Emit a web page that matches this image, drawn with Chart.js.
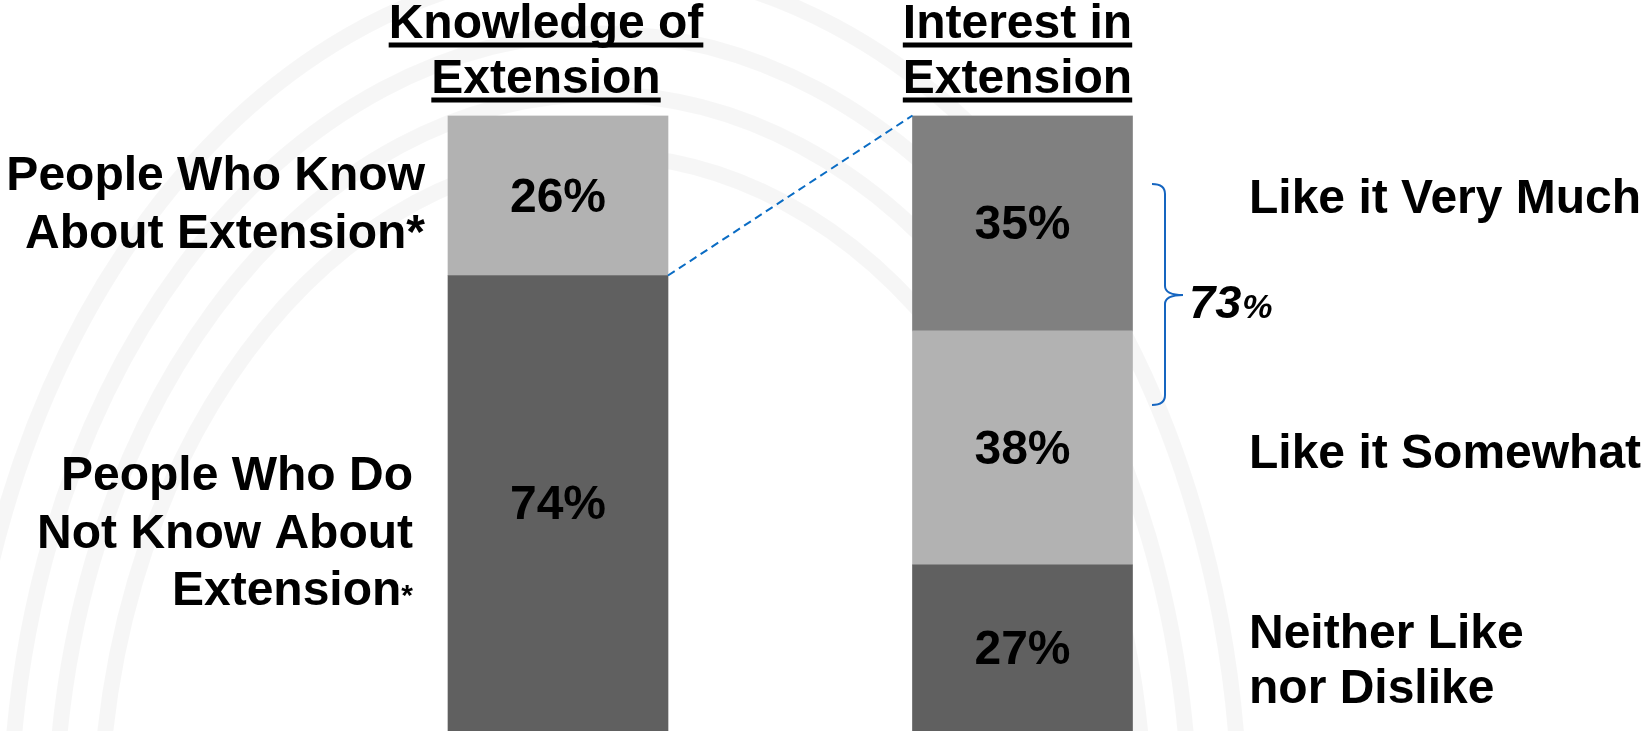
<!DOCTYPE html>
<html>
<head>
  <meta charset="utf-8">
  <title>Knowledge of and Interest in Extension</title>
  <script src="https://cdn.jsdelivr.net/npm/chart.js@4.4.1/dist/chart.umd.min.js"></script>
  <style>
    body { margin: 0; background: #ffffff; }
    #wrap { width: 1646px; height: 731px; }
  </style>
</head>
<body>
<div id="wrap"><canvas id="myChart" width="1646" height="731"></canvas></div>
<script>
// the two bars
const categories = [['Knowledge of', 'Extension'], ['Interest in', 'Extension']];

// left bar, bottom to top
const knowNotValues = [74, null];
const knowValues = [26, null];
// right bar, bottom to top
const neitherValues = [null, 27];
const somewhatValues = [null, 38];
const veryMuchValues = [null, 35];

// segment names, one entry per line
const knowNotLabel = ['People Who Do', 'Not Know About', 'Extension*'];
const knowLabel = ['People Who Know', 'About Extension*'];
const neitherLabel = ['Neither Like', 'nor Dislike'];
const somewhatLabel = ['Like it Somewhat'];
const veryMuchLabel = ['Like it Very Much'];

const FONT = '"Liberation Sans", Arial, Helvetica, sans-serif';
const SIZE = 48;
function font(size, italic) {
  return (italic ? 'italic ' : '') + 'bold ' + size + 'px ' + FONT;
}

// draws text lines; a trailing "*" can be drawn smaller
function drawLines(ctx, lines, x, baselines, align, smallStar) {
  lines.forEach((line, i) => {
    const y = baselines[i];
    if (smallStar && line.endsWith('*')) {
      const main = line.slice(0, -1);
      ctx.font = font(SIZE);
      const w1 = ctx.measureText(main).width;
      ctx.font = font(30);
      const w2 = ctx.measureText('*').width;
      const left = align === 'right' ? x - w1 - w2 : x;
      ctx.textAlign = 'left';
      ctx.font = font(SIZE);
      ctx.fillText(main, left, y);
      ctx.font = font(30);
      ctx.fillText('*', left + w1, y);
    } else {
      ctx.font = font(SIZE);
      ctx.textAlign = align;
      ctx.fillText(line, x, y);
    }
  });
}

const overlay = {
  id: 'overlay',
  beforeDatasetsDraw(chart) {
    // faint rings in the background
    const ctx = chart.ctx;
    ctx.save();
    ctx.strokeStyle = 'rgba(0,0,0,0.035)';
    ctx.lineWidth = 16;
    [500, 545, 590, 640].forEach(r => {
      ctx.beginPath();
      ctx.ellipse(600, 830, r, r * 1.35, 0, 0, Math.PI * 2);
      ctx.stroke();
    });
    ctx.restore();
  },
  afterDatasetsDraw(chart) {
    const ctx = chart.ctx;
    const xs = chart.scales.x;
    ctx.save();
    ctx.fillStyle = '#000000';

    // percent labels in the middle of each segment
    ctx.font = font(SIZE);
    ctx.textAlign = 'center';
    ctx.textBaseline = 'middle';
    chart.data.datasets.forEach((ds, d) => {
      chart.getDatasetMeta(d).data.forEach((el, i) => {
        const v = ds.data[i];
        if (v === null) return;
        ctx.fillText(v + '%', el.x, (el.y + el.base) / 2 + 3);
      });
    });
    ctx.textBaseline = 'alphabetic';

    // underlined titles above the bars
    const shift = [-12, -5];
    categories.forEach((lines, i) => {
      const cx = xs.getPixelForValue(i) + shift[i];
      [38, 93].forEach((base, k) => {
        ctx.font = font(SIZE);
        ctx.textAlign = 'center';
        ctx.fillText(lines[k], cx, base);
        const w = ctx.measureText(lines[k]).width;
        ctx.fillRect(cx - w / 2, base + 4.5, w, 5);
      });
    });

    // segment names
    drawLines(ctx, knowLabel, 425, [190, 248], 'right', false);
    drawLines(ctx, knowNotLabel, 413, [490, 548, 605], 'right', true);
    drawLines(ctx, veryMuchLabel, 1249, [213], 'left', false);
    drawLines(ctx, somewhatLabel, 1249, [468], 'left', false);
    drawLines(ctx, neitherLabel, 1249, [648, 703], 'left', false);

    // dashed link from the "know" segment to the right bar
    const a = chart.getDatasetMeta(1).data[0];
    const b = chart.getDatasetMeta(4).data[1];
    ctx.strokeStyle = '#0a6cc4';
    ctx.lineWidth = 2;
    ctx.setLineDash([8, 5]);
    ctx.beginPath();
    ctx.moveTo(a.x + a.width / 2, a.base);
    ctx.lineTo(b.x - b.width / 2, b.y);
    ctx.stroke();
    ctx.setLineDash([]);

    // brace with the combined "like" share
    ctx.strokeStyle = '#1565c0';
    ctx.lineWidth = 2;
    ctx.beginPath();
    ctx.moveTo(1152, 184);
    ctx.quadraticCurveTo(1165, 184, 1165, 194);
    ctx.lineTo(1165, 286);
    ctx.quadraticCurveTo(1165, 295, 1183, 295);
    ctx.quadraticCurveTo(1165, 295, 1165, 304);
    ctx.lineTo(1165, 395);
    ctx.quadraticCurveTo(1165, 405, 1152, 405);
    ctx.stroke();

    const likeTotal = veryMuchValues[1] + somewhatValues[1];
    ctx.textAlign = 'left';
    ctx.font = font(47, true);
    ctx.fillText(String(likeTotal), 1189, 318);
    const w = ctx.measureText(String(likeTotal)).width;
    ctx.font = font(34, true);
    ctx.fillText('%', 1189 + w + 1, 318);

    ctx.restore();
  }
};

const ctx = document.getElementById('myChart').getContext('2d');
const myChart = new Chart(ctx, {
  type: 'bar',
  data: {
    labels: categories,
    datasets: [
      { label: 'Do not know', data: knowNotValues, backgroundColor: '#606060' },
      { label: 'Know', data: knowValues, backgroundColor: '#b2b2b2' },
      { label: 'Neither like nor dislike', data: neitherValues, backgroundColor: '#606060' },
      { label: 'Like it somewhat', data: somewhatValues, backgroundColor: '#b2b2b2' },
      { label: 'Like it very much', data: veryMuchValues, backgroundColor: '#808080' }
    ]
  },
  options: {
    responsive: false,
    animation: false,
    layout: { padding: { left: 325.75, right: 391.25, top: 115.5, bottom: 0 } },
    datasets: { bar: { barThickness: 220, borderWidth: 0 } },
    scales: {
      x: { stacked: true, display: false },
      y: { stacked: true, display: false, min: 0, max: 100 }
    },
    plugins: {
      legend: { display: false },
      tooltip: { enabled: false }
    }
  },
  plugins: [overlay]
});
</script>
</body>
</html>
